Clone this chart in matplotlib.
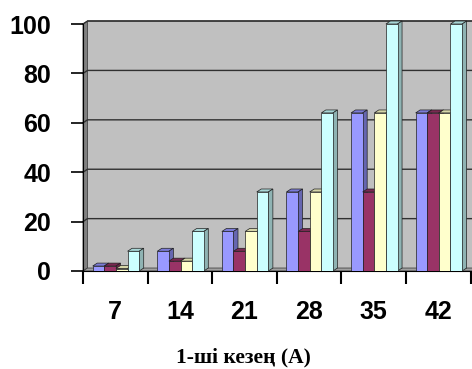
import numpy as np
import matplotlib.pyplot as plt
from matplotlib.patches import Polygon

categories = ['7', '14', '21', '28', '35', '42']
series_1 = [2, 8, 16, 32, 64, 64]
series_2 = [2, 4, 8, 16, 32, 64]
series_3 = [1, 4, 16, 32, 64, 64]
series_4 = [8, 16, 32, 64, 100, 100]
y_ticks = [0, 20, 40, 60, 80, 100]
x_title = '1-ші кезең (A)'

series = [series_1, series_2, series_3, series_4]
# front, top, side colours (Excel classic palette)
colors = [('#9999ff', '#7b7bd6', '#6666b0'),
          ('#993366', '#7a2952', '#6b2447'),
          ('#ffffcc', '#d6d6a8', '#b8b894'),
          ('#ccffff', '#a8d6d6', '#8fb3b3')]

fig = plt.figure(figsize=(4.72, 3.69), dpi=100)
ax = fig.add_axes([83 / 472, 1 - 271 / 369, (470.5 - 83) / 472, (271 - 24) / 369])

n = len(categories)
dx, dy = 0.07, 1.2      # depth of the 3d look, in data units
bw = 0.18
off = 0.15

# walls and floor
ax.add_patch(Polygon([(dx, dy), (n + dx + 0.2, dy), (n + dx + 0.2, 100 + dy), (dx, 100 + dy)],
                     closed=True, facecolor='#c0c0c0', edgecolor='none', zorder=0, clip_on=False))
ax.add_patch(Polygon([(0, 0), (dx, dy), (dx, 100 + dy), (0, 100)],
                     closed=True, facecolor='#808080', edgecolor='#404040', lw=0.6, zorder=1, clip_on=False))
ax.add_patch(Polygon([(0, 0), (n + 0.2, 0), (n + dx + 0.2, dy), (dx, dy)],
                     closed=True, facecolor='#a0a0a0', edgecolor='#404040', lw=0.6, zorder=1, clip_on=False))
ax.plot([dx, n + dx + 0.2], [100 + dy, 100 + dy], color='#606060', lw=1.2, zorder=1, clip_on=False)
for t in y_ticks[1:]:
    ax.plot([0, dx, n + dx + 0.2], [t, t + dy, t + dy], color='#303030', lw=1.0, zorder=1, clip_on=False)

z = 2
for c in range(n):
    for s in range(len(series)):
        v = series[s][c]
        x0 = c + off + s * bw
        x1 = x0 + bw
        front, top, side = colors[s]
        ax.add_patch(Polygon([(x0, v), (x1, v), (x1 + dx, v + dy), (x0 + dx, v + dy)],
                             closed=True, facecolor=top, edgecolor='#202020', lw=0.5, zorder=z, clip_on=False))
        ax.add_patch(Polygon([(x1, 0), (x1 + dx, dy), (x1 + dx, v + dy), (x1, v)],
                             closed=True, facecolor=side, edgecolor='#202020', lw=0.5, zorder=z, clip_on=False))
        ax.bar(x0, v, width=bw, align='edge', color=front, edgecolor='#202020', lw=0.5, zorder=z + 0.5)
        z += 1

ax.set_xlim(0, n)
ax.set_ylim(0, 100)
ax.set_facecolor('white')
for sp in ['top', 'right']:
    ax.spines[sp].set_visible(False)
ax.spines['left'].set_color('black')
ax.spines['bottom'].set_color('black')
ax.spines['left'].set_zorder(1.5)
ax.spines['bottom'].set_zorder(1.5)

ax.set_yticks(y_ticks)
ax.set_yticklabels([str(t) for t in y_ticks], fontsize=18, fontweight='bold', family='Liberation Sans')
ax.tick_params(axis='y', direction='out', length=9, width=1.2, pad=14)

ax.set_xticks(np.arange(n + 1))
ax.set_xticklabels([])
ax.set_xticks(np.arange(n) + 0.5, minor=True)
ax.set_xticklabels(categories, minor=True, fontsize=18, fontweight='bold', family='Liberation Sans')
ax.tick_params(axis='x', which='major', direction='out', length=9, width=1.5)
ax.tick_params(axis='x', which='minor', length=0, pad=21)

fig.text(243 / 472, 1 - 357 / 369, x_title, ha='center', va='center',
         fontsize=15.5, fontweight='bold', family='Liberation Serif')

fig.savefig('out.png', dpi=100)
